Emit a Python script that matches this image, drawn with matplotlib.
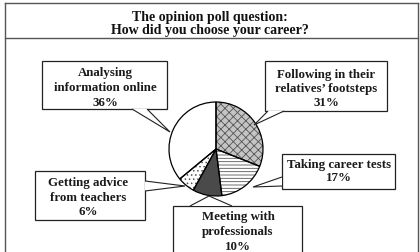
import matplotlib
matplotlib.use('Agg')
import matplotlib.pyplot as plt
from matplotlib.patches import Rectangle, Polygon

# data
labels = ['Following in their\nrelatives’ footsteps', 'Taking career tests',
          'Meeting with\nprofessionals', 'Getting advice\nfrom teachers',
          'Analysing\ninformation online']
shares = [31, 17, 10, 6, 36]
faces = ['#c4c4c4', 'white', '#4a4a4a', 'white', 'white']
hatches = ['xxxx', '-----', '', '....', '']
title_lines = ['The opinion poll question:', 'How did you choose your career?']

plt.rcParams['font.family'] = ['Liberation Serif', 'DejaVu Serif']
plt.rcParams['hatch.linewidth'] = 0.6

W, H = 420, 253
fig = plt.figure(figsize=(W / 100, H / 100), dpi=100)
ax = fig.add_axes([0, 0, 1, 1])

def Y(y):
    return H - y

# pie (clockwise from 12 o'clock)
cx, cy, r = 216, 150, 47
wedges, _ = ax.pie(shares, startangle=90, counterclock=False, colors=faces,
                   hatch=hatches, center=(cx, Y(cy)), radius=r, frame=True,
                   wedgeprops=dict(edgecolor='#555555', linewidth=0))
ax.pie(shares, startangle=90, counterclock=False, center=(cx, Y(cy)), radius=r,
       frame=True, wedgeprops=dict(facecolor='none', edgecolor='black', linewidth=0.9))

# callout boxes: (x0, y0, x1, y1), pointer base pts, tip, line y's
boxes = [
    ((265, 62, 387, 112), [(268, 112), (284, 112)], (254, 126), [75, 89, 103], 326),
    ((282, 155, 395, 190), [(282, 178), (282, 187)], (253, 188), [165, 178], 339),
    ((173, 207, 302, 270), [(190, 207), (232, 207)], (209, 197), [217, 232, 247], 238),
    ((35, 172, 145, 221), [(145, 182), (145, 192)], (185, 187), [183, 198, 212], 88),
    ((42, 62, 167, 110), [(132, 110), (147, 110)], (170, 133), [73, 88, 103], 105),
]

for (box, base, tip, ys, tx), lab, pct in zip(boxes, labels, shares):
    x0, y0, x1, y1 = box
    ax.add_patch(Rectangle((x0, Y(y1)), x1 - x0, y1 - y0, facecolor='white',
                           edgecolor='#222222', linewidth=0.9, zorder=3))
    pts = [(base[0][0], Y(base[0][1])), (tip[0], Y(tip[1])), (base[1][0], Y(base[1][1]))]
    ax.add_patch(Polygon(pts, closed=False, facecolor='white', edgecolor='#222222',
                         linewidth=0.8, zorder=4))
    lines = lab.split('\n') + ['%d%%' % pct]
    for ln, yy in zip(lines, ys):
        ax.text(tx, Y(yy), ln, ha='center', va='center', fontsize=9.3,
                fontweight='bold', color='#1a1a1a', zorder=5)

# title
for ln, yy in zip(title_lines, [17, 30]):
    ax.text(210, Y(yy), ln, ha='center', va='center', fontsize=10,
            fontweight='bold', color='#111111')

# frame
fc = '#555555'
ax.plot([5, 5], [Y(4), Y(253)], color=fc, lw=1)
ax.plot([418, 418], [Y(4), Y(253)], color=fc, lw=1)
ax.plot([5, 418], [Y(4), Y(4)], color=fc, lw=1)
ax.plot([5, 418], [Y(39), Y(39)], color=fc, lw=1)

ax.set_xlim(0, W)
ax.set_ylim(0, H)
ax.set_aspect('auto')
ax.axis('off')

fig.savefig('out.png', dpi=100)
